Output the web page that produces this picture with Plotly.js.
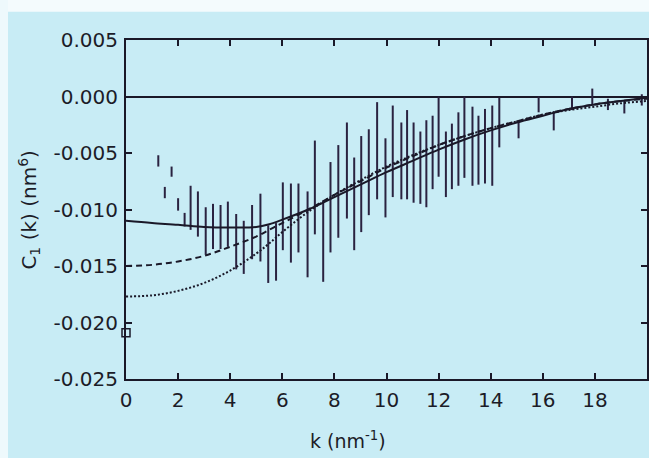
<!DOCTYPE html>
<html>
<head>
<meta charset="utf-8">
<script src="https://cdn.plot.ly/plotly-3.0.1.min.js"></script>
<style>html,body{margin:0;padding:0;background:#c8ecf5;}#chart{width:649px;height:458px;}</style>
</head>
<body>
<div id="chart"></div>
<script>
// Error-bar data (k, lower end, upper end)
const kBar = [1.24,1.49,1.75,2.00,2.25,2.48,2.76,3.06,3.34,3.63,3.91,4.23,4.52,4.84,5.16,5.46,5.76,6.02,6.33,6.62,6.97,7.25,7.57,7.85,8.15,8.48,8.76,9.03,9.32,9.64,9.96,10.24,10.57,10.79,11.04,11.30,11.53,11.77,12.00,12.28,12.51,12.76,12.99,13.30,13.53,13.78,14.06,14.33,15.07,15.84,16.42,17.12,17.90,18.50,19.13,19.80];
const barLo = [-0.0062,-0.0090,-0.0071,-0.0101,-0.0115,-0.0118,-0.0124,-0.0140,-0.0135,-0.0135,-0.0133,-0.0153,-0.0157,-0.0144,-0.0146,-0.0165,-0.0163,-0.0136,-0.0147,-0.0138,-0.0160,-0.0122,-0.0164,-0.0138,-0.0125,-0.0108,-0.0136,-0.0120,-0.0105,-0.0091,-0.0107,-0.0089,-0.0091,-0.0091,-0.0094,-0.0095,-0.0098,-0.0082,-0.0071,-0.0089,-0.0082,-0.0079,-0.0072,-0.0079,-0.0078,-0.0077,-0.0079,-0.0045,-0.0037,-0.0014,-0.0030,-0.0012,-0.0007,-0.0012,-0.0015,-0.0008];
const barHi = [-0.0052,-0.0080,-0.0062,-0.0090,-0.0103,-0.0079,-0.0084,-0.0098,-0.0095,-0.0096,-0.0093,-0.0104,-0.0110,-0.0096,-0.0086,-0.0114,-0.0112,-0.0076,-0.0077,-0.0077,-0.0084,-0.0039,-0.0092,-0.0058,-0.0043,-0.0023,-0.0054,-0.0035,-0.0029,-0.0005,-0.0037,-0.0008,-0.0023,-0.0012,-0.0023,-0.0031,-0.0021,-0.0017,0.0000,-0.0031,-0.0024,-0.0014,0.0000,-0.0009,-0.0017,-0.0011,-0.0008,-0.0001,-0.0022,0.0000,-0.0013,0.0000,0.0007,-0.0002,-0.0004,0.0002];

// Model curves
const kCurve = [0,1,2,3,4,5,5.5,6,7,8,9,10,11,12,13,14,15,16,17,18,19,20];
const solidC = [-0.0110,-0.0112,-0.01135,-0.01155,-0.0116,-0.01155,-0.0113,-0.0109,-0.0100,-0.0089,-0.0078,-0.0067,-0.0057,-0.0047,-0.0038,-0.0030,-0.0023,-0.0017,-0.0011,-0.0007,-0.0004,-0.0001];
const dashedC = [-0.0150,-0.0149,-0.0146,-0.0141,-0.0133,-0.0124,-0.0118,-0.0112,-0.0100,-0.0087,-0.0075,-0.0063,-0.0053,-0.0043,-0.0035,-0.0028,-0.0022,-0.0016,-0.0011,-0.0007,-0.0004,-0.0002];
const dottedC = [-0.0177,-0.0176,-0.0172,-0.0165,-0.0154,-0.0139,-0.0130,-0.0120,-0.0102,-0.0087,-0.0074,-0.0062,-0.0052,-0.0043,-0.0035,-0.0028,-0.0022,-0.0016,-0.0012,-0.0009,-0.0006,-0.0004];

// Single point at k = 0
const kPoint = [0];
const yPoint = [-0.0209];

// Tick labels
const xTickVals = [0,2,4,6,8,10,12,14,16,18];
const xTickText = ["0","2","4","6","8","10","12","14","16","18"];
const yTickVals = [0.005,0,-0.005,-0.010,-0.015,-0.020,-0.025];
const yTickText = ["0.005","0.000","-0.005","-0.010","-0.015","-0.020","-0.025"];

const ink = '#1a1828';
const barInk = '#2a2240';

const traces = [
  {
    x: kBar, y: barHi, mode: 'markers', type: 'scatter',
    marker: {size: 1, color: 'rgba(0,0,0,0)'},
    error_y: {type: 'data', symmetric: false,
      array: barHi.map(() => 0),
      arrayminus: barHi.map((h, i) => h - barLo[i]),
      color: barInk, thickness: 2, width: 0},
    hoverinfo: 'skip', showlegend: false
  },
  {x: kCurve, y: solidC, mode: 'lines', line: {color: ink, width: 2, shape: 'spline'}, showlegend: false},
  {x: kCurve, y: dashedC, mode: 'lines', line: {color: ink, width: 2, dash: '6px,4px', shape: 'spline'}, showlegend: false},
  {x: kCurve, y: dottedC, mode: 'lines', line: {color: ink, width: 2, dash: '2px,2px', shape: 'spline'}, showlegend: false},
  {x: kPoint, y: yPoint, mode: 'markers', cliponaxis: false,
   marker: {symbol: 'square-open', size: 8, color: ink, line: {width: 1.5, color: ink}}, showlegend: false}
];

const font = {family: 'DejaVu Sans, sans-serif', size: 20, color: '#1c1c28'};

const layout = {
  width: 649, height: 458,
  margin: {l: 126, r: 2, t: 40, b: 79, pad: 0},
  paper_bgcolor: '#c8ecf5', plot_bgcolor: '#c8ecf5',
  font: font,
  showlegend: false,
  xaxis: {
    range: [0, 20], tickvals: xTickVals, ticktext: xTickText,
    showline: true, linecolor: ink, linewidth: 2, mirror: 'ticks',
    ticks: 'inside', ticklen: 6, tickwidth: 2, tickcolor: ink,
    showgrid: false, zeroline: false, tickfont: font, ticklabelstandoff: 2
  },
  yaxis: {
    range: [-0.025, 0.005], tickvals: yTickVals, ticktext: yTickText,
    showline: true, linecolor: ink, linewidth: 2, mirror: 'ticks',
    ticks: 'inside', ticklen: 6, tickwidth: 2, tickcolor: ink,
    showgrid: false, zeroline: true, zerolinecolor: ink, zerolinewidth: 2,
    tickfont: font, ticklabelstandoff: 2
  },
  annotations: [
    {text: 'k (nm<sup>-1</sup>)', xref: 'paper', yref: 'paper', x: 0.427, y: -0.18,
     xanchor: 'center', yanchor: 'middle', showarrow: false, font: {family: font.family, size: 19, color: '#1c1c28'}},
    {text: 'C<sub>1</sub> (k) (nm<sup>6</sup>)', xref: 'paper', yref: 'paper', x: -0.186, y: 0.5,
     textangle: -90, xanchor: 'center', yanchor: 'middle', showarrow: false, font: {family: font.family, size: 20, color: '#1c1c28'}}
  ],
  shapes: [
    {type: 'rect', xref: 'paper', yref: 'paper', x0: -0.25, x1: 1.01, y0: 1.083, y1: 1.13, fillcolor: '#f4fbfd', line: {width: 0}, layer: 'below'},
    {type: 'rect', xref: 'paper', yref: 'paper', x0: -0.25, x1: -0.2265, y0: -0.24, y1: 1.13, fillcolor: '#eef9fc', line: {width: 0}, layer: 'below'}
  ]
};

Plotly.newPlot('chart', traces, layout, {staticPlot: true, displayModeBar: false});
</script>
</body>
</html>
